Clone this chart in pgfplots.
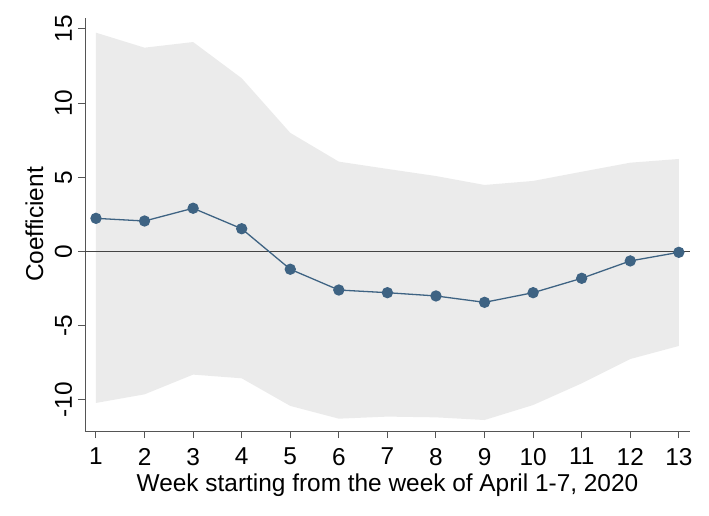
\documentclass[border=0pt]{standalone}
\usepackage{pgfplots}
\pgfplotsset{compat=1.18}
\usepackage{fontspec}
\setmainfont{Liberation Sans}
\definecolor{ciband}{HTML}{EBEBEB}
\definecolor{linec}{HTML}{3E6383}
\definecolor{axisc}{HTML}{555555}
\begin{document}
\begin{tikzpicture}
\begin{axis}[
  at={(0,0)}, anchor=south west,
  scale only axis, width=605bp, height=413bp,
  xmin=0.774, xmax=13.23, ymin=-12.09, ymax=15.74,
  axis x line*=bottom, axis y line*=left,
  x axis line style={-, axisc, line width=1pt},
  y axis line style={-, axisc, line width=1pt},
  xtick={1,...,13}, ytick={-10,-5,0,5,10,15},
  tick align=outside, major tick length=7bp,
  tick style={axisc, line width=1pt},
  /pgf/number format/assume math mode=true,
  font=\fontsize{24.5}{28}\selectfont,
  xticklabel style={inner sep=0pt, yshift=-10bp, text depth=0pt},
  yticklabel style={rotate=90, anchor=south, inner sep=0pt, yshift=6bp, text depth=0pt},
  every axis y label/.style={at={(axis description cs:-0.0694,0.5)}, rotate=90, anchor=base},
  every axis x label/.style={at={(axis description cs:0.5,-0.1453)}, anchor=base, inner sep=0pt, text height=0.72em},
  xlabel={Week starting from the week of April 1-7, 2020},
  ylabel={Coefficient},
  clip=false,
]
\addplot[fill=ciband, draw=none, forget plot] coordinates {
(1,14.75) (2,13.74) (3,14.12) (4,11.68) (5,8.0) (6,6.06) (7,5.57) (8,5.09) (9,4.49) (10,4.76) (11,5.38) (12,5.99) (13,6.24)
(13,-6.36) (12,-7.24) (11,-8.88) (10,-10.34) (9,-11.35) (8,-11.17) (7,-11.12) (6,-11.26) (5,-10.4) (4,-8.54) (3,-8.29) (2,-9.62) (1,-10.2)} -- cycle;
\addplot[color=axisc!80!black, line width=1pt, no marks] coordinates {(0.774,0) (13.23,0)};
\addplot[color=linec, line width=1.3pt, mark=*, mark size=5bp, mark options={fill=linec, draw=linec}] coordinates {
(1,2.24) (2,2.06) (3,2.92) (4,1.54) (5,-1.19) (6,-2.59) (7,-2.77) (8,-2.99) (9,-3.42) (10,-2.77) (11,-1.80) (12,-0.63) (13,-0.05)};
\end{axis}
\path[use as bounding box] (-85bp,-85bp) rectangle (624bp,431bp);
\end{tikzpicture}
\end{document}
